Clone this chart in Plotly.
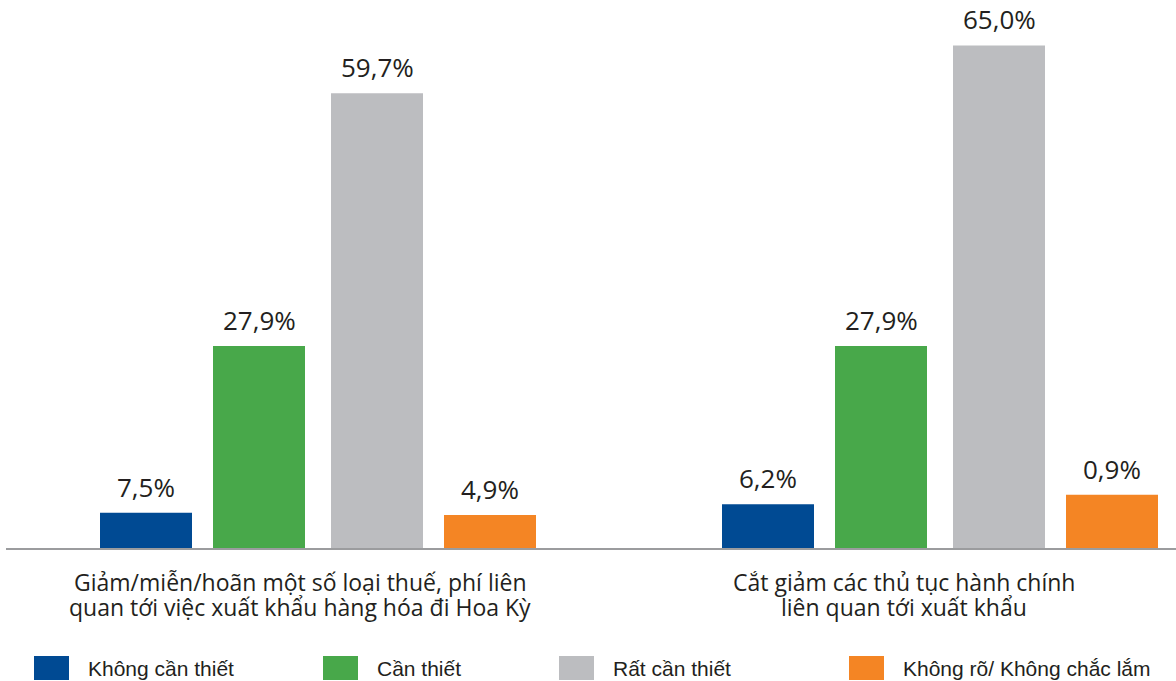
import plotly.graph_objects as go

# ---- data ----
categories = [
    ["Giảm/miễn/hoãn một số loại thuế, phí liên", "quan tới việc xuất khẩu hàng hóa đi Hoa Kỳ"],
    ["Cắt giảm các thủ tục hành chính", "liên quan tới xuất khẩu"],
]
series_names = ["Không cần thiết", "Cần thiết", "Rất cần thiết", "Không rõ/ Không chắc lắm"]
series_colors = ["#004A93", "#48A84A", "#BCBDC0", "#F48524"]

# printed labels
label_khong_can = ["7,5%", "6,2%"]
label_can = ["27,9%", "27,9%"]
label_rat_can = ["59,7%", "65,0%"]
label_khong_ro = ["4,9%", "0,9%"]

# bar heights as drawn in the picture (axis units)
h_khong_can = [4.5, 5.6]
h_can = [25.8, 25.8]
h_rat_can = [58.1, 64.2]
h_khong_ro = [4.2, 6.8]

heights = [h_khong_can, h_can, h_rat_can, h_khong_ro]
labels = [label_khong_can, label_can, label_rat_can, label_khong_ro]

# ---- layout constants (pixels) ----
W, H = 1176, 681
ML, MR, MT, MB = 6, 0, 0, 133
PW = W - ML - MR
PH = H - MT - MB
UNIT = 622.0  # px per category

offsets = [-218 / UNIT, -105 / UNIT, 13 / UNIT, 126 / UNIT]
bar_w = 92 / UNIT
x_idx = [0, 1]

TEXT = "#231F20"
FONT = "Open Sans"

def px_x(p):
    return (p - ML) / PW

def px_y(p):
    return (MT + PH - p) / PH

fig = go.Figure()
for k in range(4):
    fig.add_trace(go.Bar(
        x=x_idx, y=heights[k], name=series_names[k],
        marker=dict(color=series_colors[k], line=dict(width=0)),
        offset=offsets[k], width=bar_w, showlegend=False,
        hoverinfo="skip",
    ))

annotations = []
for k in range(4):
    for i in x_idx:
        annotations.append(dict(
            x=i + offsets[k] + bar_w / 2, y=heights[k][i], xref="x", yref="y",
            text=labels[k][i], showarrow=False, yanchor="bottom", yshift=6,
            font=dict(family=FONT, size=26, color=TEXT),
        ))

# category labels (one annotation per line for tight line spacing)
cat_centers_px = [300, 904]
line_centers_px = [582, 607]
for i, lines in enumerate(categories):
    for j, line in enumerate(lines):
        annotations.append(dict(
            x=px_x(cat_centers_px[i]), y=px_y(line_centers_px[j]),
            xref="paper", yref="paper",
            text=line, showarrow=False, xanchor="center", yanchor="middle",
            font=dict(family=FONT, size=23, color=TEXT),
        ))

# legend (manual)
legend_box_px = [34, 323, 559, 849]
shapes = []
for k in range(4):
    x0 = legend_box_px[k]
    shapes.append(dict(
        type="rect", xref="paper", yref="paper",
        x0=px_x(x0), x1=px_x(x0 + 35), y0=px_y(680), y1=px_y(656),
        fillcolor=series_colors[k], line=dict(width=0),
    ))
    annotations.append(dict(
        x=px_x(x0 + 52), y=px_y(668), xref="paper", yref="paper",
        text=series_names[k], showarrow=False, xanchor="left", yanchor="middle",
        font=dict(family="Liberation Sans", size=21, color=TEXT),
    ))

fig.update_layout(
    width=W, height=H,
    margin=dict(l=ML, r=MR, t=MT, b=MB),
    paper_bgcolor="white", plot_bgcolor="white",
    barmode="overlay",
    xaxis=dict(range=[-312 / UNIT, (W - ML - 312) / UNIT], showticklabels=False,
               showgrid=False, zeroline=False, ticks="",
               showline=True, linecolor="#9B9C9E", linewidth=2, fixedrange=True),
    yaxis=dict(range=[0, 70], visible=False, showgrid=False, zeroline=False, fixedrange=True),
    annotations=annotations, shapes=shapes,
)

fig.write_html(
    "out.html",
    config={"displayModeBar": False},
    post_script="document.body.style.margin='0';document.body.style.overflow='hidden';",
)
